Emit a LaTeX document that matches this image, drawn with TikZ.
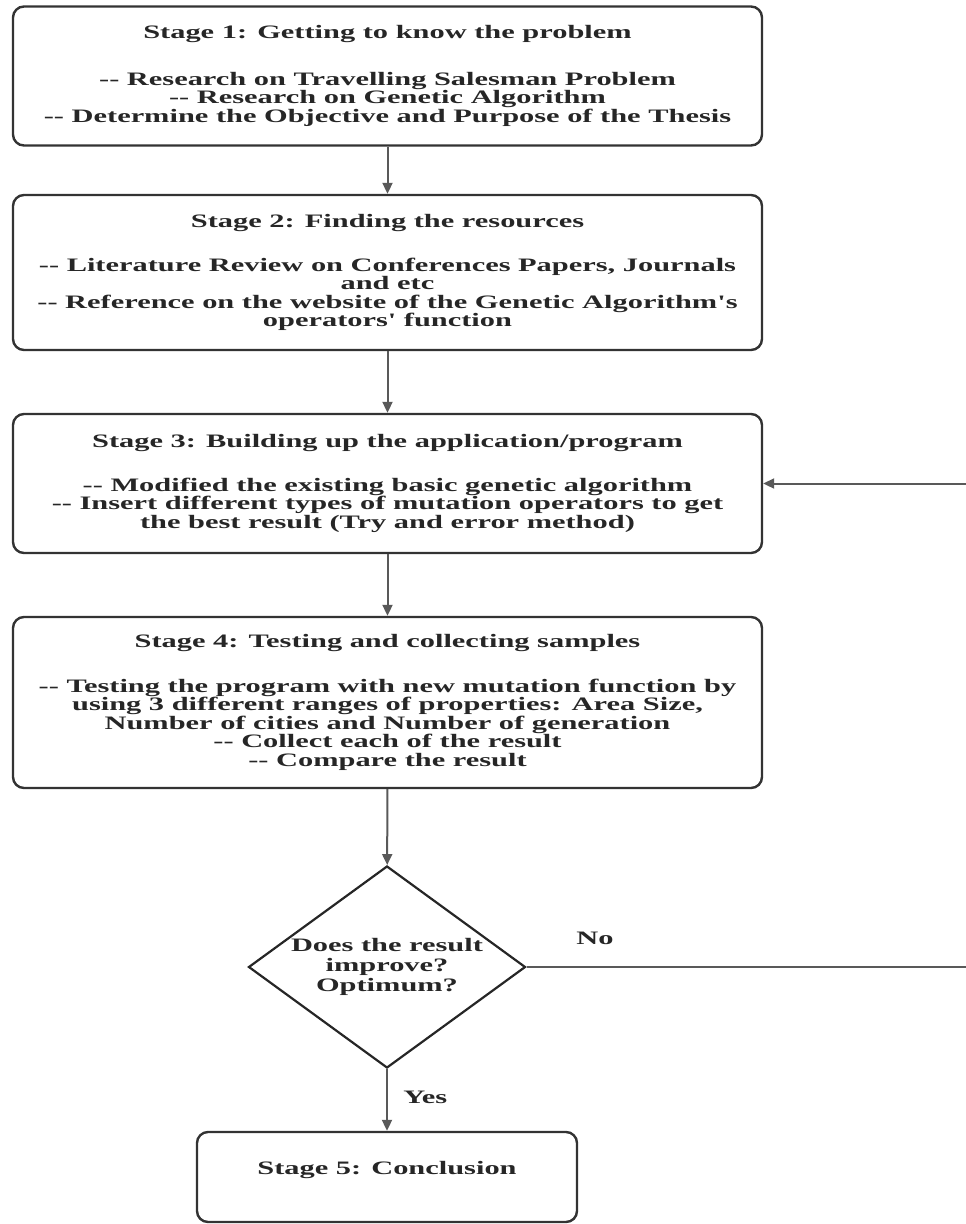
\documentclass[tikz,border=0pt]{standalone}
\usepackage{fontspec}
\setmainfont[FakeStretch=1.6, Ligatures=TeXOff]{Liberation Serif}
\usetikzlibrary{shapes.geometric,arrows.meta}
\tikzset{
	etapa/.style={draw=black!80, line width=2.4pt, rounded corners=11pt, minimum width=749pt, align=center, inner sep=0pt, text=black!85, font=\bfseries\fontsize{19}{18.5}\selectfont},
	decision/.style={diamond, draw=black!85, line width=2.2pt, minimum width=277pt, minimum height=202pt, inner sep=0pt},
	etiqueta/.style={text=black!85, font=\bfseries\fontsize{19}{20}\selectfont, align=center},
	flecha/.style={draw=black!65, line width=2pt, -{Triangle[length=11pt,width=10pt]}}
}
\begin{document}
\begin{tikzpicture}[x=1pt, y=-1pt]
			\useasboundingbox (0,0) rectangle (966,1224);
			% Etapas
			\node[etapa, minimum height=139pt] (s1) at (387.5,76) {Stage 1: Getting to know the problem\\[28pt] -- Research on Travelling Salesman Problem\\ -- Research on Genetic Algorithm\\ -- Determine the Objective and Purpose of the Thesis};
			\node[etapa, minimum height=155pt] (s2) at (387.5,272.5) {Stage 2: Finding the resources\\[25pt] -- Literature Review on Conferences Papers, Journals\\ and etc\\ -- Reference on the website of the Genetic Algorithm's\\ operators' function};
			\node[etapa, minimum height=139pt] (s3) at (387.5,483.5) {Stage 3: Building up the application/program\\[25pt] -- Modified the existing basic genetic algorithm\\ -- Insert different types of mutation operators to get\\ the best result (Try and error method)};
			\node[etapa, minimum height=171pt] (s4) at (387.5,702.5) {Stage 4: Testing and collecting samples\\[26pt] -- Testing the program with new mutation function by\\ using 3 different ranges of properties: Area Size,\\ Number of cities and Number of generation\\ -- Collect each of the result\\ -- Compare the result};
			% Rombo de decisión
			\node[decision, label={[etiqueta]center:Does the result\\ improve?\\ Optimum?}] (dec) at (387,967) {};
			\node[etapa, minimum width=380pt, minimum height=90pt] (s5) at (387,1177) {Stage 5: Conclusion\\ \mbox{}};
			% Flechas
			\draw[flecha] (s1) -- (s2);
			\draw[flecha] (s2) -- (s3);
			\draw[flecha] (s3) -- (s4);
			\draw[flecha] (s4) -- (dec);
			\draw[flecha] (dec) -- (s5) node[etiqueta, pos=0.45, right=12pt] (si) {Yes};
			% Regreso a la etapa 3
			\coordinate (c1) at (966.5,967);
			\coordinate (c2) at (966.5,483.5);
			\draw[flecha] (dec.east) -- (c1) -- (c2) -- (s3.east);
			\node[etiqueta] (no) at (595,938) {No};
		\end{tikzpicture}
\end{document}
